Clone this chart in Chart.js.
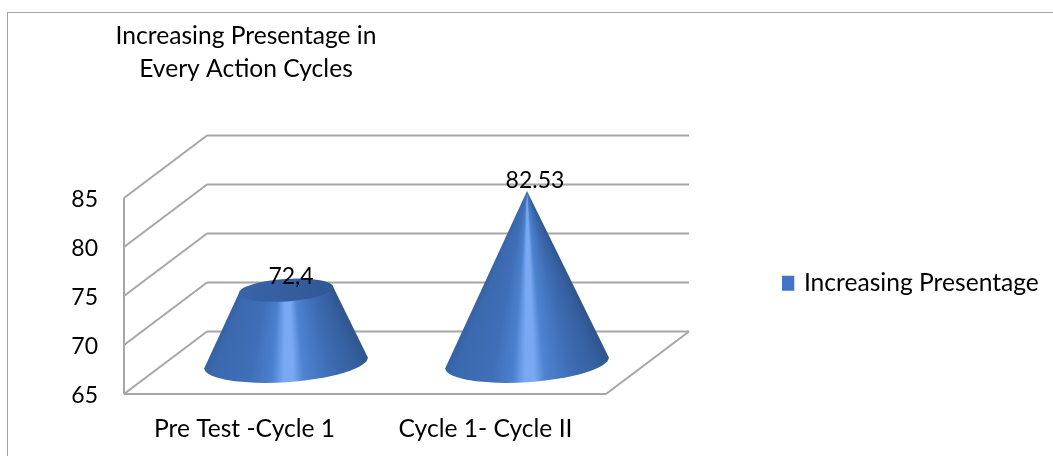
<!DOCTYPE html>
<html><head><meta charset="utf-8">
<style>
html,body{margin:0;padding:0;background:#fff;overflow:hidden}
#wrap{position:absolute;left:0;top:0;width:1053px;height:456px}
#frame{position:absolute;left:7px;top:12px;right:0;bottom:0;border-top:1.5px solid #a3a3a3;border-left:1.5px solid #a3a3a3}
canvas{position:absolute;left:0;top:0}
</style>
<script src="https://cdn.jsdelivr.net/npm/chart.js@4"></script>
</head><body>
<div id="wrap"><div id="frame"></div><canvas id="c" width="1053" height="456"></canvas></div>
<script>
const categories = ['Pre Test -Cycle 1', 'Cycle 1- Cycle II'];
const seriesName = 'Increasing Presentage';
const seriesValues = [72.4, 82.53];
const valueLabels = ['72,4', '82.53'];
const yTicks = [65, 70, 75, 80, 85];
const titleLines = ['Increasing Presentage in', 'Every Action Cycles'];

const FONT = 'Lato, Carlito, Calibri, sans-serif';
const FS = 24.6, NUM_FS = 23;
const DEPTH_X = 83, DEPTH_Y = 62.5;
const GRID = '#a6a6a6';
const shade = [[0,'#33609f'],[0.08,'#3b69ae'],[0.3,'#3f6fb8'],[0.42,'#4c80cc'],[0.49,'#78a9f4'],[0.54,'#79a9f2'],[0.6,'#4f83cf'],[0.75,'#3e6eb6'],[0.92,'#355f9f'],[1,'#2f568f']];
const labelShift = [[5,-6.5],[8,-3]];

const scene = {
  id:'scene',
  afterLayout(chart){
    const t = chart.titleBlock, l = chart.legend;
    const tw = t.right - t.left;
    t.left = 246 - tw/2; t.right = 246 + tw/2; t.top = 19.5; t.bottom = 85.5;
    const lw = l.width, lh = l.height;
    l.left = 782; l.right = 782 + lw; l.top = 271; l.bottom = 271 + lh;
  },
  beforeDatasetsDraw(chart){
    const {ctx, scales:{x,y}} = chart, a = chart.chartArea;
    ctx.save();
    ctx.strokeStyle = GRID; ctx.lineWidth = 2;
    const seg = (x1,y1,x2,y2)=>{ctx.beginPath();ctx.moveTo(x1,y1);ctx.lineTo(x2,y2);ctx.stroke();};
    yTicks.forEach(v=>{
      const p = y.getPixelForValue(v);
      seg(a.left,p,a.left+DEPTH_X,p-DEPTH_Y);
      seg(a.left+DEPTH_X,p-DEPTH_Y,a.right+DEPTH_X,p-DEPTH_Y);
    });
    seg(a.left,y.getPixelForValue(yTicks[yTicks.length-1]),a.left,a.bottom);
    seg(a.left,a.bottom,a.right,a.bottom);
    seg(a.right,a.bottom,a.right+DEPTH_X,a.bottom-DEPTH_Y);
    ctx.restore();
  },
  beforeDatasetDraw(chart,args){
    const {ctx, scales:{x,y}} = chart;
    const meta = args.meta;
    const baseVal = y.min;
    const maxVal = Math.max(...seriesValues);
    const tilt = -0.067, squash = 0.237;
    const r = x.width/2*0.34;
    meta.data.forEach((el,i)=>{
      const cx = el.x + DEPTH_X/2;
      const baseY = y.getPixelForValue(baseVal) - DEPTH_Y/2;
      const apexY = y.getPixelForValue(maxVal) - DEPTH_Y/2;
      const topY = el.y - DEPTH_Y/2;
      const frac = (seriesValues[i]-baseVal)/(maxVal-baseVal);
      const rt = r*(1-frac);
      const H = baseY-apexY;
      const g = ctx.createConicGradient(0,cx,apexY);
      const stops = shade.map(([t,c])=>{
        const ang = Math.PI/2 + Math.atan2((0.5-t)*2*r,H);
        return [ang/(2*Math.PI),c];
      }).sort((p,q)=>p[0]-q[0]);
      stops.forEach(([p,c])=>g.addColorStop(p,c));
      ctx.save();
      ctx.beginPath();
      if(rt>0.5){
        ctx.moveTo(cx-rt*Math.cos(tilt),topY-rt*Math.sin(tilt));
      }else{
        ctx.moveTo(cx,topY);
      }
      ctx.lineTo(cx-r*Math.cos(tilt),baseY-r*Math.sin(tilt));
      ctx.ellipse(cx,baseY,r,r*squash,tilt,Math.PI,0,true);
      if(rt>0.5) ctx.lineTo(cx+rt*Math.cos(tilt),topY+rt*Math.sin(tilt));
      ctx.closePath();
      ctx.fillStyle = g; ctx.fill();
      if(rt>0.5){
        const g2 = ctx.createLinearGradient(cx-rt,0,cx+rt,0);
        g2.addColorStop(0,'#3964a8'); g2.addColorStop(1,'#2f5896');
        ctx.beginPath();
        ctx.ellipse(cx,topY,rt,rt*squash,tilt,0,Math.PI*2);
        ctx.fillStyle = g2; ctx.fill();
      }
      ctx.restore();
    });
    return false;
  },
  afterDatasetsDraw(chart){
    const {ctx} = chart;
    const meta = chart.getDatasetMeta(0);
    ctx.save();
    ctx.font = NUM_FS+'px '+FONT; ctx.fillStyle='#000'; ctx.textAlign='center'; ctx.textBaseline='alphabetic';
    meta.data.forEach((el,i)=>{
      ctx.fillText(valueLabels[i], el.x+DEPTH_X/2+labelShift[i][0], el.y-DEPTH_Y/2+labelShift[i][1]);
    });
    ctx.restore();
  }
};

new Chart(document.getElementById('c'),{
  type:'bar',
  data:{labels:categories,datasets:[{label:seriesName,data:seriesValues,backgroundColor:'#4472C4',borderWidth:0}]},
  plugins:[scene],
  options:{
    responsive:false,animation:false,devicePixelRatio:1,
    layout:{padding:{left:0,top:132,right:447,bottom:0}},
    plugins:{
      tooltip:{enabled:false},
      title:{display:true,text:titleLines,color:'#000',padding:0,font:{family:FONT,size:FS,lineHeight:33/FS,weight:'normal'}},
      legend:{display:true,position:'chartArea',align:'start',
        labels:{color:'#000',usePointStyle:true,pointStyle:'rect',boxWidth:9.6,boxHeight:15,padding:0,font:{family:FONT,size:FS}}}
    },
    scales:{
      x:{grid:{display:false},border:{display:false},
         afterFit(s){s.height=62;},
         ticks:{color:'#000',padding:12,maxRotation:0,autoSkip:false,font:{family:FONT,size:FS}}},
      y:{min:65,max:85,grid:{display:false},border:{display:false},
         afterFit(s){s.width=124;},
         afterBuildTicks(s){s.ticks=yTicks.map(v=>({value:v}));},
         ticks:{color:'#000',padding:18,labelOffset:2,font:{family:FONT,size:NUM_FS}}}
    }
  }
});
</script>
</body></html>
